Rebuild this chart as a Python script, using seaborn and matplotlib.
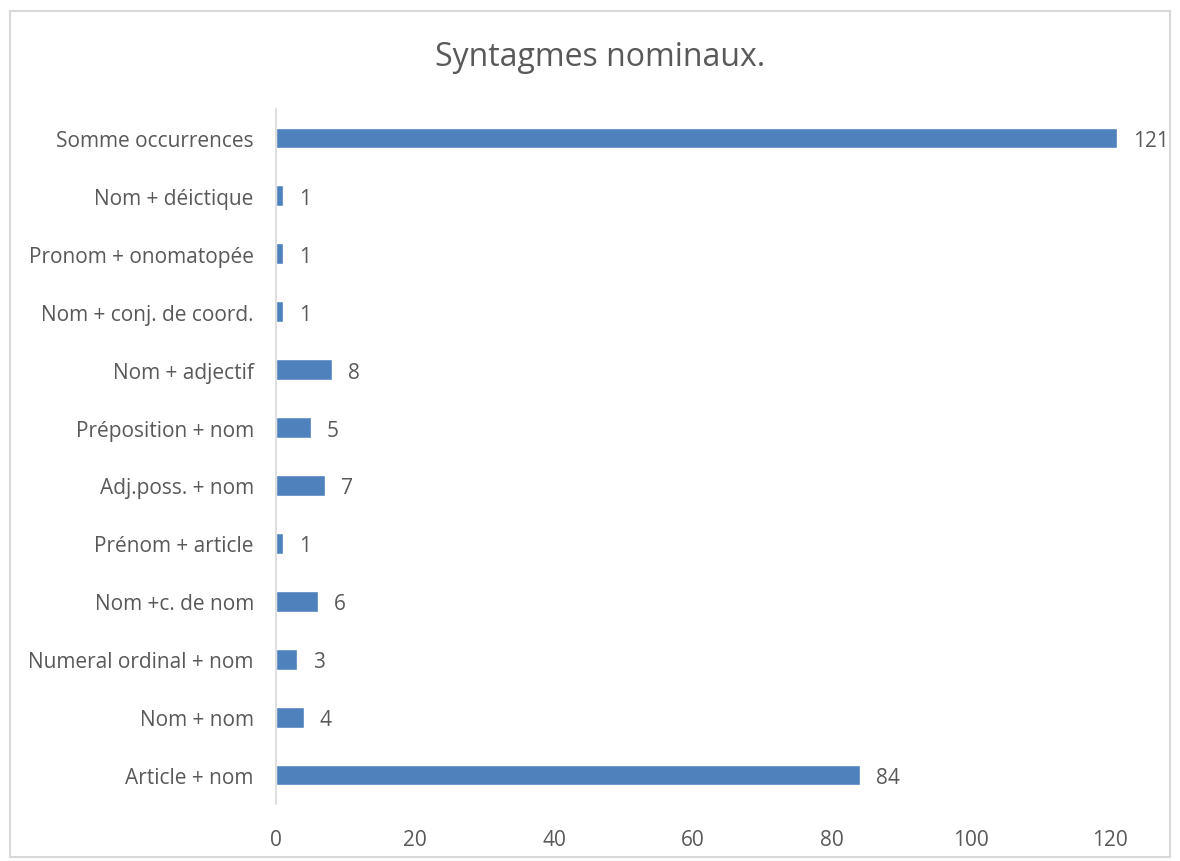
import matplotlib
matplotlib.use("Agg")
import matplotlib.pyplot as plt
import seaborn as sns
import pandas as pd
from matplotlib.patches import Rectangle

categories = [
    "Somme occurrences",
    "Nom + déictique",
    "Pronom + onomatopée",
    "Nom + conj. de coord.",
    "Nom + adjectif",
    "Préposition + nom",
    "Adj.poss. + nom",
    "Prénom + article",
    "Nom +c. de nom",
    "Numeral ordinal + nom",
    "Nom + nom",
    "Article + nom",
]
values = [121, 1, 1, 1, 8, 5, 7, 1, 6, 3, 4, 84]
x_ticks = [0, 20, 40, 60, 80, 100, 120]
title = "Syntagmes nominaux."

sns.set_theme(style="white")
plt.rcParams["font.family"] = ["Open Sans", "DejaVu Sans"]

df = pd.DataFrame({"categorie": categories, "valeur": values})

fig = plt.figure(figsize=(11.8, 8.62), dpi=100)
ax = fig.add_axes([276 / 1180, 1 - 805 / 862, (1145 - 276) / 1180, (805 - 110) / 862])

sns.barplot(data=df, x="valeur", y="categorie", order=categories, orient="h",
            color="#4F81BD", saturation=1, width=0.36, ax=ax)

ax.set_xlim(0, 125)
ax.set_ylim(len(categories) - 0.5, -0.5)
ax.set_xticks(x_ticks)
ax.set_xticklabels([str(t) for t in x_ticks], fontsize=15, color="#595959")
ax.tick_params(axis="y", labelsize=15, labelcolor="#595959", length=0, pad=16)
ax.tick_params(axis="x", length=0, pad=18)
ax.set_xlabel("")
ax.set_ylabel("")

for side in ["top", "right", "bottom"]:
    ax.spines[side].set_visible(False)
ax.spines["left"].set_color("#D9D9D9")
ax.spines["left"].set_linewidth(1.2)

for i, v in enumerate(values):
    ax.annotate(str(v), xy=(v, i), xytext=(11.5, 0), textcoords="offset points",
                va="center_baseline", ha="left", fontsize=15, color="#595959",
                annotation_clip=False)

fig.text(600 / 1180, 1 - 58 / 862, title, ha="center", va="center",
         fontsize=23, color="#595959")

fig.patches.append(Rectangle((10 / 1180, 4 / 862), 1160 / 1180, (850 - 4) / 862,
                             transform=fig.transFigure, fill=False,
                             edgecolor="#D9D9D9", linewidth=1.5))

fig.savefig("out.png", dpi=100, facecolor="white")
